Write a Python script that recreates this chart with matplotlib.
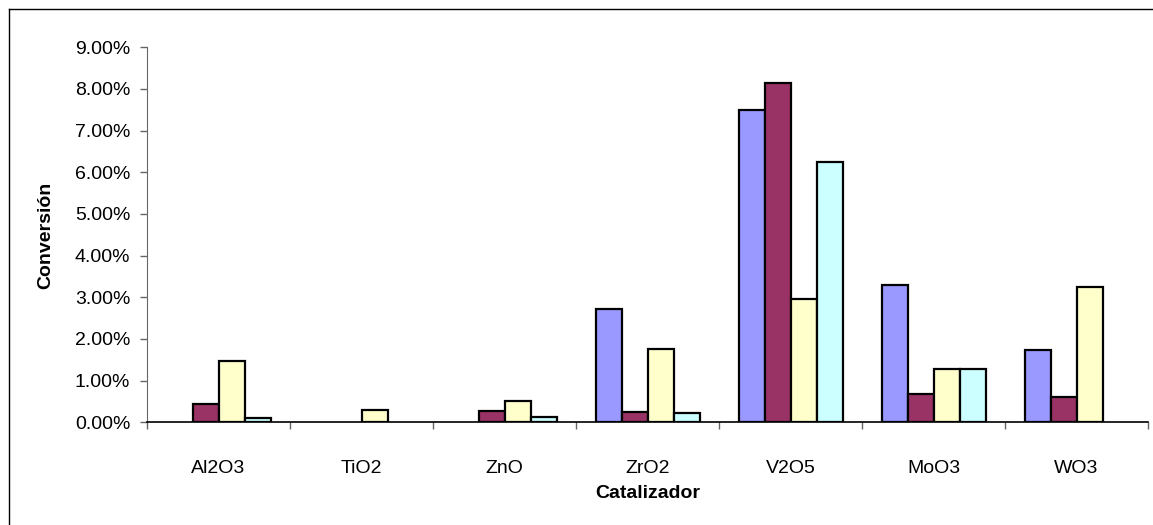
import matplotlib
matplotlib.use("Agg")
import matplotlib.pyplot as plt
import numpy as np
from matplotlib.lines import Line2D
from matplotlib.ticker import FuncFormatter, MultipleLocator

categories = ["Al2O3", "TiO2", "ZnO", "ZrO2", "V2O5", "MoO3", "WO3"]
serie1 = [0.0, 0.0, 0.0, 2.72, 7.49, 3.30, 1.73]
serie2 = [0.43, 0.0, 0.28, 0.24, 8.14, 0.67, 0.60]
serie3 = [1.47, 0.29, 0.52, 1.77, 2.97, 1.28, 3.25]
serie4 = [0.10, 0.0, 0.13, 0.23, 6.24, 1.27, 0.0]
colors = ["#9999FF", "#993366", "#FFFFCC", "#CCFFFF"]

plt.rcParams['font.family'] = ['Liberation Sans', 'DejaVu Sans']

W, H = 1153, 525
fig = plt.figure(figsize=(W / 100, H / 100), dpi=100)
ax = fig.add_axes([147/W, 1-422.3/H, 1001/W, (422.3-47.3)/H])

x = np.arange(len(categories))
w = 1/5.5
for i, (vals, c) in enumerate(zip([serie1, serie2, serie3, serie4], colors)):
    v = np.array(vals, dtype=float) / 100
    v = np.where(v > 0, v, np.nan)
    ax.bar(x + (i - 1.5) * w, v, width=w, color=c, edgecolor='black', linewidth=1.6)

ax.set_xlim(-0.5, len(categories) - 0.5)
ax.set_ylim(0, 0.09)
ax.yaxis.set_major_locator(MultipleLocator(0.01))
ax.yaxis.set_major_formatter(FuncFormatter(lambda v, p: f"{v*100:.2f}%"))
ax.set_xticks(x)
ax.set_xticklabels(categories)
ax.set_xticks(np.arange(-0.5, len(categories)), minor=True)
ax.tick_params(axis='x', which='major', length=0, pad=27, labelsize=14)
ax.tick_params(axis='x', which='minor', length=5, direction='out', color='#666666', width=1)
ax.tick_params(axis='y', length=5, direction='out', labelsize=14, pad=7, color='#666666', width=1)
for s in ['top', 'right']:
    ax.spines[s].set_visible(False)
ax.spines['left'].set_color('#666666')
ax.spines['bottom'].set_color('black')
ax.spines['bottom'].set_linewidth(1.2)

fig.text(46/W, 1 - 235/H, "Conversión", rotation=90, fontsize=14, fontweight='bold',
         ha='center', va='center')
fig.text((147 + 500.5)/W, 1 - 493/H, "Catalizador", fontsize=14, fontweight='bold',
         ha='center', va='center')

# chart border (only top and left edges fall inside the image)
fig.add_artist(Line2D([9/W, 9/W], [0, 1 - 8.5/H], transform=fig.transFigure, color='black', linewidth=1.0))
fig.add_artist(Line2D([9/W, 1], [1 - 8.5/H, 1 - 8.5/H], transform=fig.transFigure, color='black', linewidth=1.0))

fig.savefig("out.png", dpi=100)
